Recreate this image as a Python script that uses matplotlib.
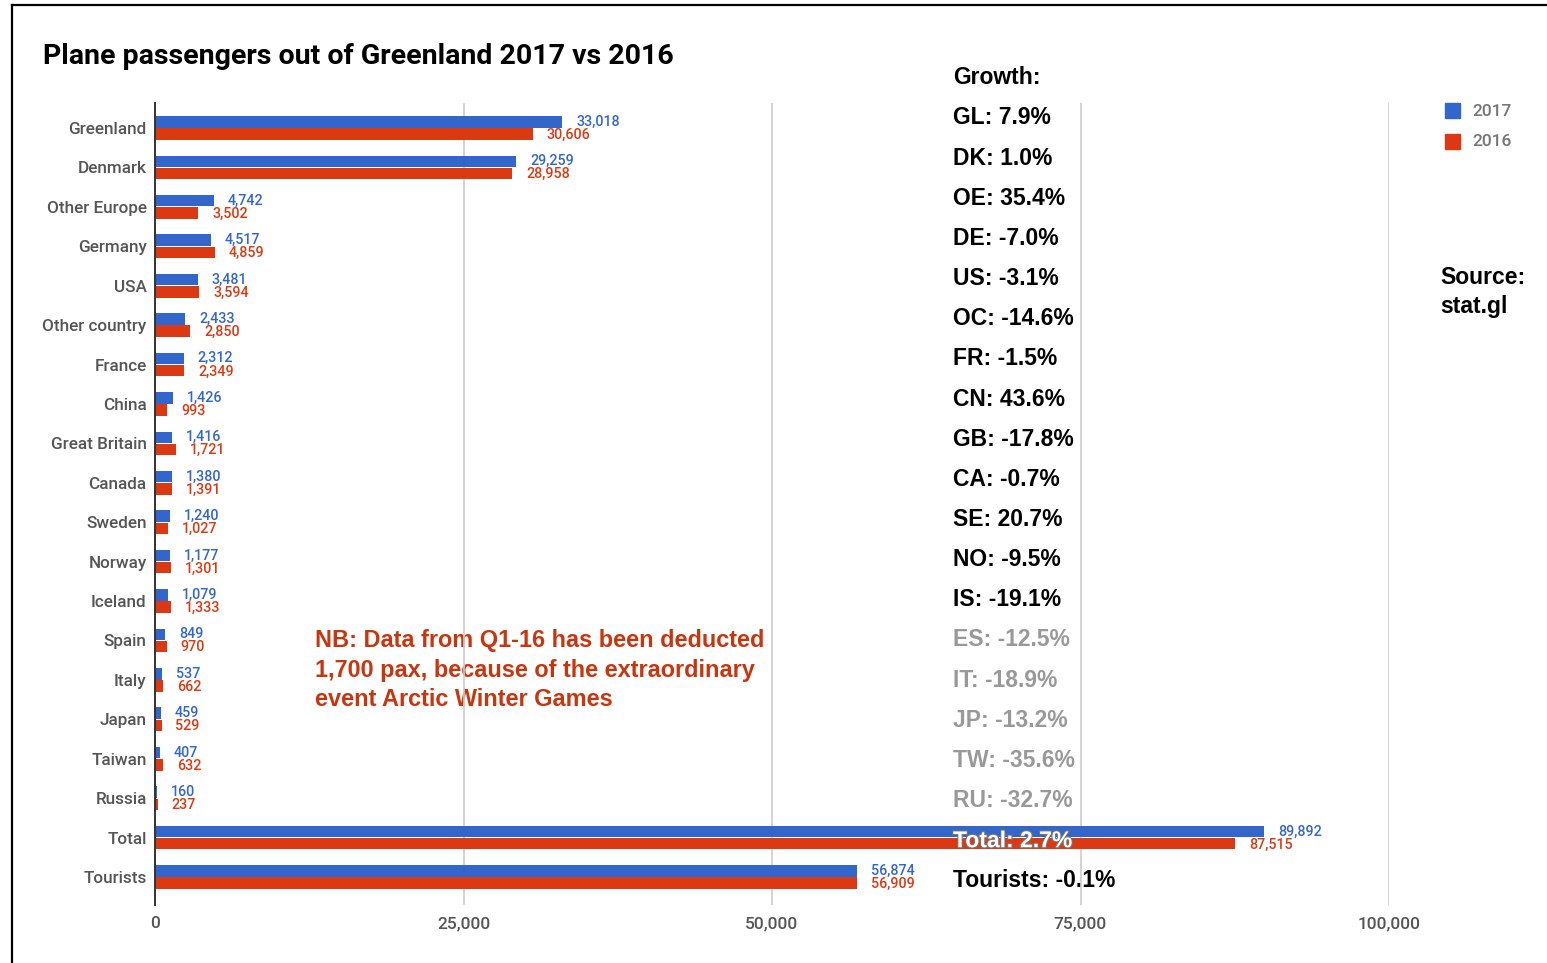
import numpy as np
import matplotlib.pyplot as plt
import matplotlib.patheffects as pe
from matplotlib.lines import Line2D

# Passenger counts per destination
countries = ["Greenland", "Denmark", "Other Europe", "Germany", "USA", "Other country",
             "France", "China", "Great Britain", "Canada", "Sweden", "Norway", "Iceland",
             "Spain", "Italy", "Japan", "Taiwan", "Russia", "Total", "Tourists"]
pax_2017 = [33018, 29259, 4742, 4517, 3481, 2433, 2312, 1426, 1416, 1380, 1240, 1177,
            1079, 849, 537, 459, 407, 160, 89892, 56874]
pax_2016 = [30606, 28958, 3502, 4859, 3594, 2850, 2349, 993, 1721, 1391, 1027, 1301,
            1333, 970, 662, 529, 632, 237, 87515, 56909]

growth_labels = ["GL: 7.9%", "DK: 1.0%", "OE: 35.4%", "DE: -7.0%", "US: -3.1%", "OC: -14.6%",
                 "FR: -1.5%", "CN: 43.6%", "GB: -17.8%", "CA: -0.7%", "SE: 20.7%", "NO: -9.5%",
                 "IS: -19.1%", "ES: -12.5%", "IT: -18.9%", "JP: -13.2%", "TW: -35.6%",
                 "RU: -32.7%", "Total: 2.7%", "Tourists: -0.1%"]
x_ticks = [0, 25000, 50000, 75000, 100000]

BLUE = "#3366cc"
RED = "#dc3912"
W, H = 1547, 963


def fx(px):
    return px / W


def fy(py):
    return 1 - py / H


fig = plt.figure(figsize=(W / 100, H / 100), dpi=100)
ax = fig.add_axes([fx(155), fy(905), fx(1389) - fx(155), fy(103) - fy(905)])

y = np.arange(len(countries))
bh = 0.29
ax.barh(y - 0.155, pax_2017, height=bh, color=BLUE, zorder=3)
ax.barh(y + 0.155, pax_2016, height=bh, color=RED, zorder=3)

# value labels right of each bar
for i in range(len(countries)):
    ax.annotate(f"{pax_2017[i]:,}", (pax_2017[i], i - 0.155), xytext=(10, 0),
                textcoords="offset points", va="center", ha="left",
                color=BLUE, fontsize=10.3, family="Roboto", fontweight="medium", zorder=4)
    ax.annotate(f"{pax_2016[i]:,}", (pax_2016[i], i + 0.175), xytext=(10, 0),
                textcoords="offset points", va="center", ha="left",
                color=RED, fontsize=10.3, family="Roboto", fontweight="medium", zorder=4)

ax.set_xlim(0, 100000)
ax.set_ylim(len(countries) - 1 + 0.71, -0.634)
ax.set_yticks(y)
ax.set_yticklabels(countries, family="Roboto", fontweight="medium", fontsize=12.3,
                   color="#555555")
ax.set_xticks(x_ticks)
ax.set_xticklabels([f"{v:,}" for v in x_ticks], family="Roboto", fontweight="medium",
                   fontsize=12.5, color="#555555")
ax.tick_params(length=0)
ax.tick_params(axis="y", pad=6)
ax.tick_params(axis="x", pad=8)
for s in ["top", "right", "bottom"]:
    ax.spines[s].set_visible(False)
ax.spines["left"].set_color("#333333")
ax.spines["left"].set_linewidth(1.4)
ax.spines["left"].set_zorder(5)

# gridlines sit above the overlay text but under the bars
for v in x_ticks[1:]:
    ax.axvline(v, color="#cccccc", lw=1.2, zorder=2)

# growth figures column
ov = dict(transform=fig.transFigure, family="Liberation Sans", fontweight="bold",
          fontsize=16.5, va="center", ha="left", clip_on=False, zorder=1)
ax.text(fx(953), fy(78), "Growth:", color="black", **ov)
for i, lab in enumerate(growth_labels):
    yy = fy(118 + 40.15 * i)
    if lab.startswith("Total"):
        t = ax.text(fx(953), yy, lab, color="white", **{**ov, "zorder": 6})
        t.set_path_effects([pe.withStroke(linewidth=1.5, foreground="#777777")])
    elif 13 <= i <= 17:
        ax.text(fx(953), yy, lab, color="#999999", **ov)
    else:
        ax.text(fx(953), yy, lab, color="black", **ov)

ax.text(fx(315), fy(670), "NB: Data from Q1-16 has been deducted\n"
        "1,700 pax, because of the extraordinary\nevent Arctic Winter Games",
        color="#c8360f", linespacing=1.38, **{**ov, "fontsize": 16.9})
ax.text(fx(1440), fy(292), "Source:\nstat.gl", color="black", linespacing=1.32, **ov)

# legend
for k, (lab, col) in enumerate([("2017", BLUE), ("2016", RED)]):
    cy = 111 + 31 * k
    fig.patches.append(plt.Rectangle((fx(1445), fy(cy + 7)), fx(15), 15 / H,
                                     transform=fig.transFigure, color=col))
    fig.text(fx(1472), fy(cy), lab, family="Roboto", fontweight="medium", fontsize=12.5,
             color="#757575", va="center", ha="left")

fig.text(fx(43), fy(56), "Plane passengers out of Greenland 2017 vs 2016",
         family="Roboto", fontweight="bold", fontsize=20.5, color="black",
         va="center", ha="left")

# screenshot border
fig.add_artist(Line2D([fx(12), fx(12)], [0, fy(5)], color="black", lw=1.6))
fig.add_artist(Line2D([fx(12), 1], [fy(5), fy(5)], color="black", lw=1.6))

fig.savefig("out.png", dpi=100)
